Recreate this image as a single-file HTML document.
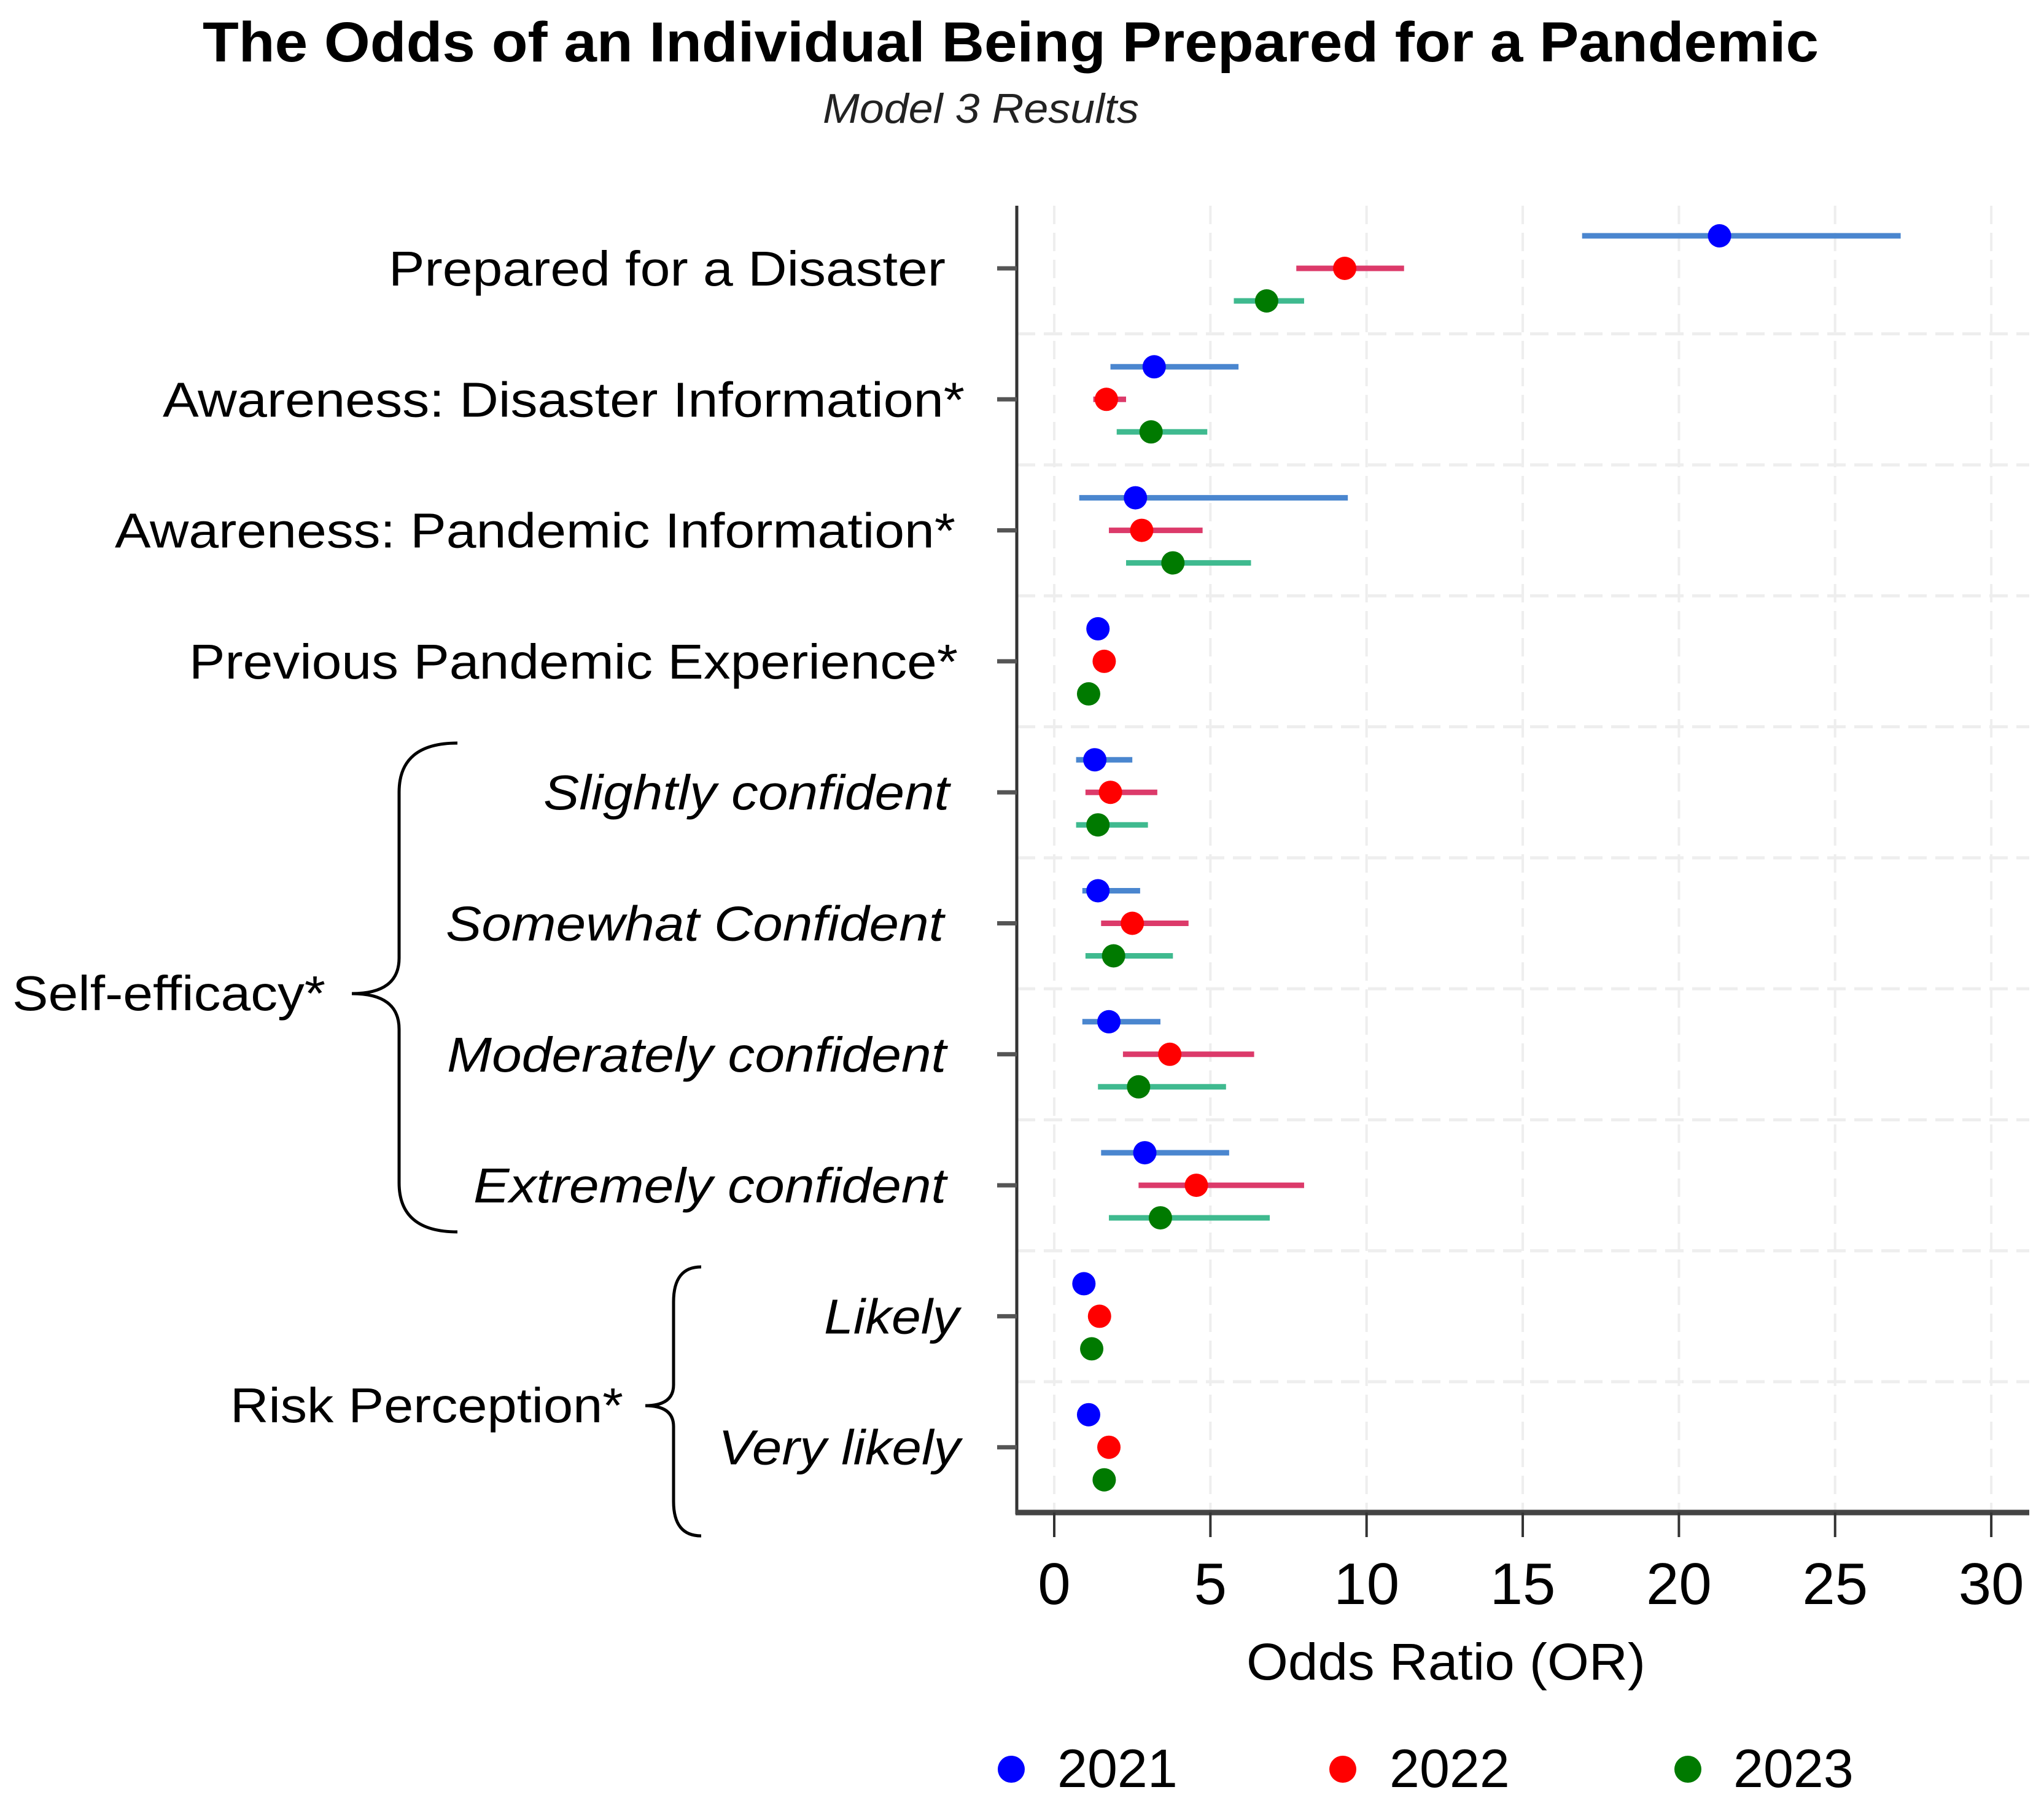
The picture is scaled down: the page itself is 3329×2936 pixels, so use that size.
<!DOCTYPE html>
<html><head><meta charset="utf-8"><style>
html,body{margin:0;padding:0;background:#fff}
svg{display:block;font-family:"Liberation Sans",Arial,sans-serif}
</style></head><body>
<svg id="chart" width="3329" height="2936" viewBox="0 0 3329 2936" xmlns="http://www.w3.org/2000/svg">
<text x="330" y="100" font-size="92" font-weight="bold" textLength="2632" lengthAdjust="spacingAndGlyphs">The Odds of an Individual Being Prepared for a Pandemic</text>
<text x="1340" y="200" font-size="68" font-style="italic" fill="#222" textLength="515" lengthAdjust="spacingAndGlyphs">Model 3 Results</text>
<g id="grid"></g><g id="marks"></g><g id="axes"></g>
<text x="20" y="1645" font-size="80" textLength="510" lengthAdjust="spacingAndGlyphs">Self-efficacy*</text>
<path d="M745,1210 Q650,1210 650,1290 L650,1560 Q650,1618 573,1618 Q650,1618 650,1676 L650,1926 Q650,2006 745,2006" fill="none" stroke="#000" stroke-width="5"/>
<text x="375" y="2316" font-size="80" textLength="640" lengthAdjust="spacingAndGlyphs">Risk Perception*</text>
<path d="M1142,2063 Q1097,2063 1097,2120 L1097,2255 Q1097,2289 1051,2289 Q1097,2289 1097,2323 L1097,2445 Q1097,2501 1142,2501" fill="none" stroke="#000" stroke-width="5"/>
<text x="2030" y="2735" font-size="84" textLength="650" lengthAdjust="spacingAndGlyphs">Odds Ratio (OR)</text>
<g>
<circle cx="1647" cy="2881" r="22" fill="#0000ff"/>
<text x="1722" y="2910" font-size="88">2021</text>
<circle cx="2187" cy="2881" r="22" fill="#ff0000"/>
<text x="2263" y="2910" font-size="88">2022</text>
<circle cx="2749" cy="2881" r="22" fill="#007a00"/>
<text x="2823" y="2910" font-size="88">2023</text>
</g>
</svg>
<script>
const categories=["Prepared for a Disaster","Awareness: Disaster Information*","Awareness: Pandemic Information*","Previous Pandemic Experience*","Slightly confident","Somewhat Confident","Moderately confident","Extremely confident","Likely","Very likely"];
const italicCats=[false,false,false,false,true,true,true,true,true,true];
const or2021=[21.3,3.2,2.6,1.4,1.3,1.4,1.75,2.9,0.95,1.1];
const lo2021=[16.9,1.8,0.8,1.3,0.7,0.9,0.9,1.5,0.9,1.0];
const hi2021=[27.1,5.9,9.4,1.5,2.5,2.75,3.4,5.6,1.0,1.2];
const or2022=[9.3,1.67,2.8,1.6,1.8,2.5,3.7,4.55,1.45,1.75];
const lo2022=[7.75,1.25,1.75,1.5,1.0,1.5,2.2,2.7,1.35,1.65];
const hi2022=[11.2,2.3,4.75,1.7,3.3,4.3,6.4,8.0,1.55,1.85];
const or2023=[6.8,3.1,3.8,1.1,1.4,1.9,2.7,3.4,1.2,1.6];
const lo2023=[5.75,2.0,2.3,1.0,0.7,1.0,1.4,1.75,1.1,1.5];
const hi2023=[8.0,4.9,6.3,1.2,3.0,3.8,5.5,6.9,1.3,1.7];
const xTicks=[0,5,10,15,20,25,30];
const NS="http://www.w3.org/2000/svg";
// label layout (pixel extents, not data)
const labelLeft=[633,265,187,308,885,726,728,771,1342,1170];
const labelRight=[1540,1571,1556,1560,1546,1537,1541,1541,1562,1564];
const X0=1717,PX=50.87,Y0=437,DY=213.3,LEFT=1656,RIGHT=3305,TOP=335,BOT=2463;
const x=v=>X0+v*PX, y=i=>Y0+i*DY;
function mk(p,t,a){const e=document.createElementNS(NS,t);for(const k in a)e.setAttribute(k,a[k]);p.appendChild(e);return e;}
const grid=document.getElementById('grid'),marks=document.getElementById('marks'),axes=document.getElementById('axes');
xTicks.forEach(t=>{const l=mk(grid,'line',{x1:x(t),x2:x(t),y1:TOP,y2:BOT,stroke:'#eeeeee','stroke-width':4,'stroke-dasharray':'30 14'});

});
for(let i=0;i<categories.length-1;i++){const l=mk(grid,'line',{x1:LEFT,x2:RIGHT,y1:y(i)+DY/2,y2:y(i)+DY/2,stroke:'#eeeeee','stroke-width':5,'stroke-dasharray':'30 14'});

}
const series=[{yr:'2021',or:or2021,lo:lo2021,hi:hi2021,dot:'#0000ff',ci:'#4a86cf',off:-53},
{yr:'2022',or:or2022,lo:lo2022,hi:hi2022,dot:'#ff0000',ci:'#dc3a6a',off:0},
{yr:'2023',or:or2023,lo:lo2023,hi:hi2023,dot:'#007a00',ci:'#3fba8f',off:53}];
series.forEach(s=>{categories.forEach((c,i)=>{const yy=y(i)+s.off;
const l=mk(marks,'line',{x1:x(s.lo[i]),x2:x(s.hi[i]),y1:yy,y2:yy,stroke:s.ci,'stroke-width':9});


const d=mk(marks,'circle',{cx:x(s.or[i]),cy:yy,r:19,fill:s.dot});

});});
const ya=mk(axes,'line',{x1:LEFT,x2:LEFT,y1:TOP,y2:BOT+3,stroke:'#333','stroke-width':5});


const xa=mk(axes,'line',{x1:LEFT-2,x2:RIGHT,y1:BOT,y2:BOT,stroke:'#444','stroke-width':9});


xTicks.forEach(t=>{const l=mk(axes,'line',{x1:x(t),x2:x(t),y1:BOT,y2:BOT+40,stroke:'#333','stroke-width':4});


const tx=mk(axes,'text',{x:x(t),y:2612,'text-anchor':'middle','font-size':96});tx.textContent=t;

});
categories.forEach((c,i)=>{const l=mk(axes,'line',{x1:LEFT-32,x2:LEFT,y1:y(i),y2:y(i),stroke:'#555','stroke-width':7});


const tx=mk(axes,'text',{x:labelLeft[i],y:y(i)+28,'font-size':80,textLength:labelRight[i]-labelLeft[i],lengthAdjust:'spacingAndGlyphs'});
if(italicCats[i])tx.setAttribute('font-style','italic');
tx.textContent=c;

});
</script>
</body></html>
